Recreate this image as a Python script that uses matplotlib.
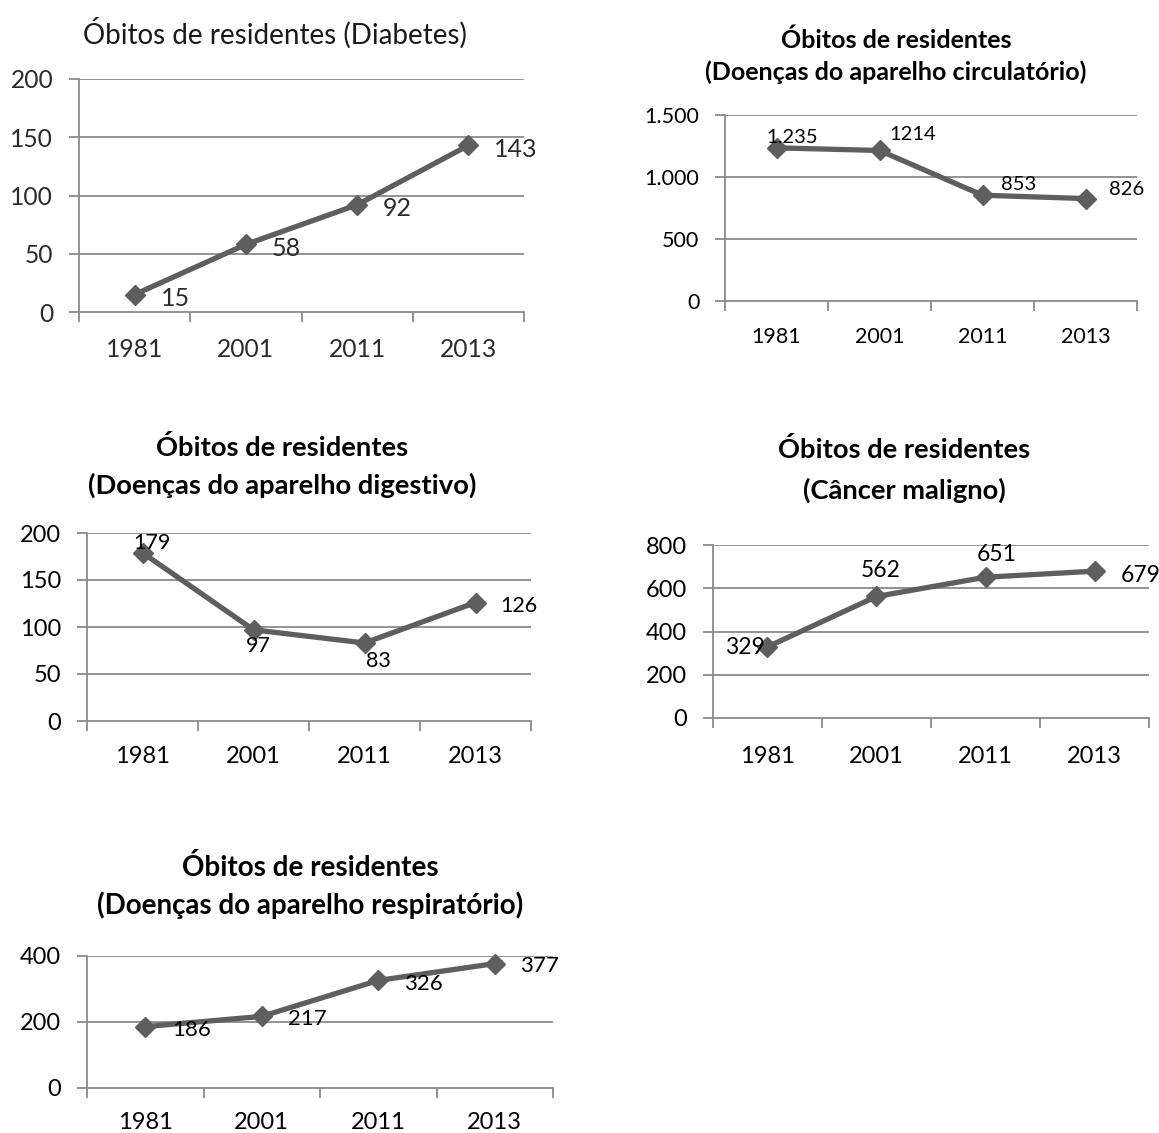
import matplotlib
matplotlib.use("agg")
import matplotlib.pyplot as plt

plt.rcParams['font.family'] = ['Lato', 'DejaVu Sans']

# data
years = ['1981', '2001', '2011', '2013']
diabetes = [15, 58, 92, 143]
circulatorio = [1235, 1214, 853, 826]
circulatorio_rotulos = ['1.235', '1214', '853', '826']
digestivo = [179, 97, 83, 126]
cancer = [329, 562, 651, 679]
respiratorio = [186, 217, 326, 377]

W, H = 1159, 1133
fig = plt.figure(figsize=(W / 100, H / 100), dpi=100)

LINE = '#5e5e5e'
GRID = '#8a8a8a'


def painel(x0, y0, x1, y1, vals, ymax, ystep, ylabels, fs, lfs, offsets,
           txtcolor='black', rotulos=None, xpad=18):
    ax = fig.add_axes([x0 / W, 1 - y1 / H, (x1 - x0) / W, (y1 - y0) / H])
    xs = range(len(vals))
    ax.plot(xs, vals, color=LINE, lw=3.8, marker='D', ms=10.5, zorder=3, clip_on=False)
    ax.set_xlim(-0.5, len(vals) - 0.5)
    ax.set_ylim(0, ymax)
    yt = list(range(0, ymax + 1, ystep))
    ax.set_yticks(yt)
    ax.set_yticklabels(ylabels)
    ax.set_xticks(list(xs))
    ax.set_xticklabels(years)
    ax.set_xticks([i - 0.5 for i in range(len(vals) + 1)], minor=True)
    for y in yt[1:]:
        ax.axhline(y, color=GRID, lw=1.3, zorder=1)
    for s in ['top', 'right']:
        ax.spines[s].set_visible(False)
    for s in ['left', 'bottom']:
        ax.spines[s].set_color(GRID)
        ax.spines[s].set_linewidth(1.3)
    ax.tick_params(axis='x', which='major', length=0, pad=xpad, labelsize=fs, labelcolor=txtcolor)
    ax.tick_params(axis='x', which='minor', length=7.5, width=1.3, color=GRID)
    ax.tick_params(axis='y', length=7.5, width=1.3, color=GRID, pad=11, labelsize=fs, labelcolor=txtcolor)
    if rotulos is None:
        rotulos = [str(v) for v in vals]
    for i, v in enumerate(vals):
        dx, dy, ha = offsets[i]
        ax.annotate(rotulos[i], (i, v), xytext=(dx, dy), textcoords='offset pixels',
                    ha=ha, va='center', fontsize=lfs, color=txtcolor, zorder=4,
                    annotation_clip=False)
    return ax


def titulo(cx, linhas, fs, bold=True, color='black'):
    for texto, cy in linhas:
        fig.text(cx / W, 1 - cy / H, texto, ha='center', va='center', fontsize=fs,
                 fontweight='bold' if bold else 'normal', color=color)


# Diabetes
painel(79, 79, 524, 312, diabetes, 200, 50, ['0', '50', '100', '150', '200'], 17.7, 18,
       [(26, -4, 'left')] * 4, txtcolor='#2b2b2b', xpad=19)
titulo(275, [('Óbitos de residentes (Diabetes)', 33)], 20, bold=False, color='#1a1a1a')

# Circulatorio
painel(725, 115, 1137, 301, circulatorio, 1500, 500, ['0', '500', '1.000', '1.500'], 15.5, 14.5,
       [(16, 10, 'center'), (10, 16, 'left'), (18, 11, 'left'), (24, 9, 'left')],
       rotulos=circulatorio_rotulos, xpad=19)
titulo(896, [('Óbitos de residentes', 40), ('(Doenças do aparelho circulatório)', 72)], 18)

# Digestivo
painel(87, 533, 531, 721, digestivo, 200, 50, ['0', '50', '100', '150', '200'], 17, 15.5,
       [(9, 10, 'center'), (5, -16, 'center'), (14, -18, 'center'), (25, -3, 'left')])
titulo(282, [('Óbitos de residentes', 448), ('(Doenças do aparelho digestivo)', 485)], 19.7)

# Cancer
painel(713, 545, 1149, 718, cancer, 800, 200, ['0', '200', '400', '600', '800'], 17, 16.5,
       [(-3, -1, 'right'), (4, 26, 'center'), (11, 23, 'center'), (26, -4, 'left')], xpad=20)
titulo(904, [('Óbitos de residentes', 450), ('(Câncer maligno)', 490)], 19.7)

# Respiratorio
painel(87, 956, 553, 1088, respiratorio, 400, 200, ['0', '200', '400'], 17, 16,
       [(27, -3, 'left'), (26, -3, 'left'), (26, -4, 'left'), (25, -2, 'left')], xpad=17)
titulo(310, [('Óbitos de residentes', 868), ('(Doenças do aparelho respiratório)', 905)], 20)

fig.savefig('out.png', dpi=100)
